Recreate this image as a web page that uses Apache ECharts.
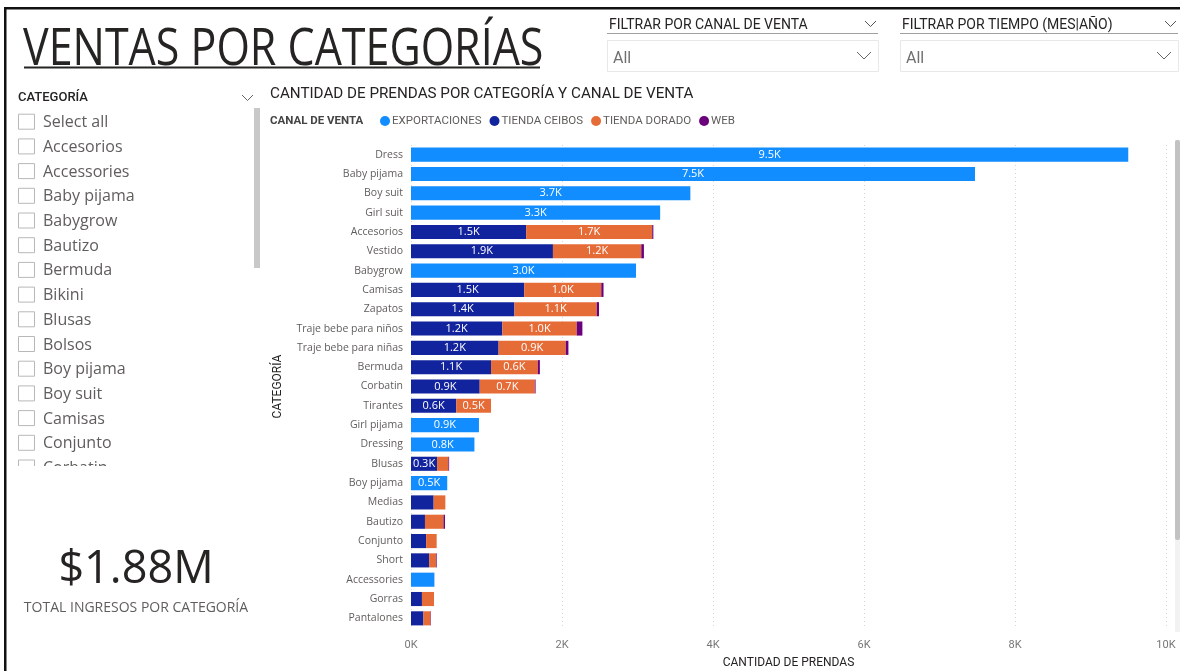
<!DOCTYPE html>
<html>
<head>
<meta charset="utf-8">
<script src="https://cdn.jsdelivr.net/npm/echarts@6/dist/echarts.min.js"></script>
<style>
  html, body { margin: 0; padding: 0; background: #ffffff; }
  #chart { width: 1180px; height: 671px; }
</style>
</head>
<body>
<div id="chart"></div>
<script>
// Categories, sorted by total garments sold
const categories = ['Dress', 'Baby pijama', 'Boy suit', 'Girl suit', 'Accesorios', 'Vestido', 'Babygrow',
  'Camisas', 'Zapatos', 'Traje bebe para niños', 'Traje bebe para niñas', 'Bermuda', 'Corbatin',
  'Tirantes', 'Girl pijama', 'Dressing', 'Blusas', 'Boy pijama', 'Medias', 'Bautizo', 'Conjunto',
  'Short', 'Accessories', 'Gorras', 'Pantalones'];

// Garments per sales channel
const exportaciones = [9500, 7470, 3700, 3300, null, null, 2980, null, null, null, null, null, null,
  null, 900, 840, null, 480, null, null, null, null, 310, null, null];
const tiendaCeibos = [null, null, null, null, 1525, 1880, null, 1500, 1370, 1210, 1160, 1060, 910,
  600, null, null, 345, null, 300, 185, 200, 240, null, 145, 165];
const tiendaDorado = [null, null, null, null, 1670, 1170, null, 1020, 1090, 985, 890, 620, 730,
  460, null, null, 150, null, 155, 245, 140, 90, null, 160, 95];
const web = [null, null, null, null, 15, 35, null, 30, 30, 75, 35, 27, 10,
  null, null, null, 10, null, null, 20, null, 10, null, null, 5];

const channels = ['EXPORTACIONES', 'TIENDA CEIBOS', 'TIENDA DORADO', 'WEB'];
const xTicks = [0, 2000, 4000, 6000, 8000, 10000];

const sliderItems = ['Select all', 'Accesorios', 'Accessories', 'Baby pijama', 'Babygrow', 'Bautizo',
  'Bermuda', 'Bikini', 'Blusas', 'Bolsos', 'Boy pijama', 'Boy suit', 'Camisas', 'Conjunto', 'Corbatin'];

const kpiValue = '$1.88M';

const COLORS = ['#118DFF', '#12239E', '#E66C37', '#6B007B'];
const SEGOE = '"Open Sans", "Noto Sans", sans-serif';
const DIN = 'Roboto, "Noto Sans", sans-serif';

function txt(x, y, text, font, fill, align, extra) {
  return Object.assign({
    type: 'text', x: x, y: y, silent: true,
    style: { text: text, font: font, fill: fill, textAlign: align || 'left', textVerticalAlign: 'middle' }
  }, extra || {});
}
function rect(x, y, w, h, style, r) {
  return { type: 'rect', silent: true, shape: { x: x, y: y, width: w, height: h, r: r || 0 }, style: style };
}
function chevron(x, y, w, h, color) {
  return { type: 'polyline', silent: true,
    shape: { points: [[x, y], [x + w / 2, y + h], [x + w, y]] },
    style: { stroke: color, lineWidth: 1, fill: null } };
}

const graphics = [];
// frame
graphics.push(rect(4, 7, 1176, 2.5, { fill: '#111' }));
graphics.push(rect(4, 7, 2.5, 664, { fill: '#111' }));

// page title
graphics.push(txt(23, 51, 'VENTAS POR CATEGORÍAS', '43px ' + SEGOE, '#252423', 'left',
  { scaleY: 1.18, originX: 0, originY: 0 }));
graphics.push(rect(24, 66.5, 516, 2, { fill: '#252423' }));

// channel / time filters
function dropdown(x, w, label) {
  graphics.push(txt(x + 2, 25, label, '14px ' + DIN, '#252423'));
  graphics.push(rect(x, 33, w, 1, { fill: '#a0a0a0' }));
  graphics.push(chevron(x + w - 13, 21, 11, 5.5, '#555'));
  graphics.push(rect(x + 0.5, 40.5, w, 31, { fill: '#fff', stroke: '#e8e8e8', lineWidth: 1 }));
  graphics.push(txt(x + 6, 59, 'All', '16px ' + DIN, '#707070'));
  graphics.push(chevron(x + w - 21, 52, 14, 7, '#666'));
}
dropdown(607, 271, 'FILTRAR POR CANAL DE VENTA');
dropdown(900, 278, 'FILTRAR POR TIEMPO (MES|AÑO)');

// category slicer
graphics.push(txt(18, 98, 'CATEGORÍA', '500 13px ' + DIN, '#252423'));
graphics.push(chevron(242, 95, 11, 5.5, '#666'));
graphics.push(rect(254, 108, 6, 160, { fill: '#c8c8c8' }));
sliderItems.forEach(function (name, i) {
  const cy = 121.7 + i * 24.7;
  graphics.push(rect(18.5, cy - 7.5, 16, 15, { fill: '#fff', stroke: '#b8b8b8', lineWidth: 1 }));
  graphics.push(txt(43, cy + 1, name, '16px ' + SEGOE, '#605E5C'));
});
// the list is clipped at the bottom of the slicer
graphics.push(rect(10, 466, 250, 14, { fill: '#fff' }));

// KPI card
graphics.push(txt(136, 570, kpiValue, '45px ' + SEGOE, '#252423', 'center'));
graphics.push(txt(136, 608, 'TOTAL INGRESOS POR CATEGORÍA', '14px ' + SEGOE, '#605E5C', 'center'));

// chart title and legend caption
graphics.push(txt(270, 94, 'CANTIDAD DE PRENDAS POR CATEGORÍA Y CANAL DE VENTA', '15.2px ' + DIN, '#252423'));
graphics.push(txt(270, 121, 'CANAL DE VENTA', 'bold 11.5px ' + DIN, '#444'));

// chart scrollbar
graphics.push(rect(1175, 140, 5, 492, { fill: '#f2f2f2' }));
graphics.push(rect(1175, 140, 5, 400, { fill: '#c2c2c2' }, 2));

function kLabel(p) {
  const v = p.value;
  if (v == null || v < 330) return '';
  return (v / 1000).toFixed(1) + 'K';
}

const seriesData = [exportaciones, tiendaCeibos, tiendaDorado, web];
const series = channels.map(function (name, i) {
  return {
    name: name,
    type: 'bar',
    stack: 'canal',
    data: seriesData[i],
    barCategoryGap: '27%',
    itemStyle: { color: COLORS[i] },
    label: {
      show: i < 3,
      position: 'inside',
      color: '#ffffff',
      fontFamily: SEGOE,
      fontSize: 11,
      formatter: kLabel
    },
    emphasis: { disabled: true }
  };
});

const chart = echarts.init(document.getElementById('chart'), null, { renderer: 'canvas' });
chart.setOption({
  animation: false,
  backgroundColor: '#ffffff',
  graphic: { elements: graphics },
  legend: {
    data: channels,
    left: 380,
    top: 115,
    icon: 'circle',
    itemWidth: 10,
    itemHeight: 10,
    itemGap: 8,
    padding: 0,
    selectedMode: false,
    textStyle: { fontFamily: DIN, fontSize: 11.5, color: '#605E5C', padding: [0, 0, 0, -3] }
  },
  grid: { left: 411, right: 14, top: 145, bottom: 43, containLabel: false, outerBoundsMode: 'none' },
  xAxis: {
    type: 'value',
    min: xTicks[0],
    max: xTicks[xTicks.length - 1],
    interval: xTicks[1] - xTicks[0],
    name: 'CANTIDAD DE PRENDAS',
    nameLocation: 'middle',
    nameGap: 29,
    nameTextStyle: { fontFamily: DIN, fontSize: 12, color: '#252423' },
    axisLine: { show: false },
    axisTick: { show: false },
    axisLabel: {
      margin: 12, color: '#777', fontFamily: DIN, fontSize: 11,
      formatter: function (v) { return (v / 1000) + 'K'; }
    },
    splitLine: { show: true, lineStyle: { color: '#d6d6d6', type: [1, 3], width: 1 } }
  },
  yAxis: {
    type: 'category',
    data: categories,
    inverse: true,
    name: 'CATEGORÍA',
    nameLocation: 'middle',
    nameRotate: 90,
    nameGap: 127,
    nameTextStyle: { fontFamily: DIN, fontSize: 12, color: '#252423' },
    axisLine: { show: false },
    axisTick: { show: false },
    axisLabel: { margin: 8, color: '#605E5C', fontFamily: SEGOE, fontSize: 10.5 }
  },
  series: series
});
</script>
</body>
</html>
